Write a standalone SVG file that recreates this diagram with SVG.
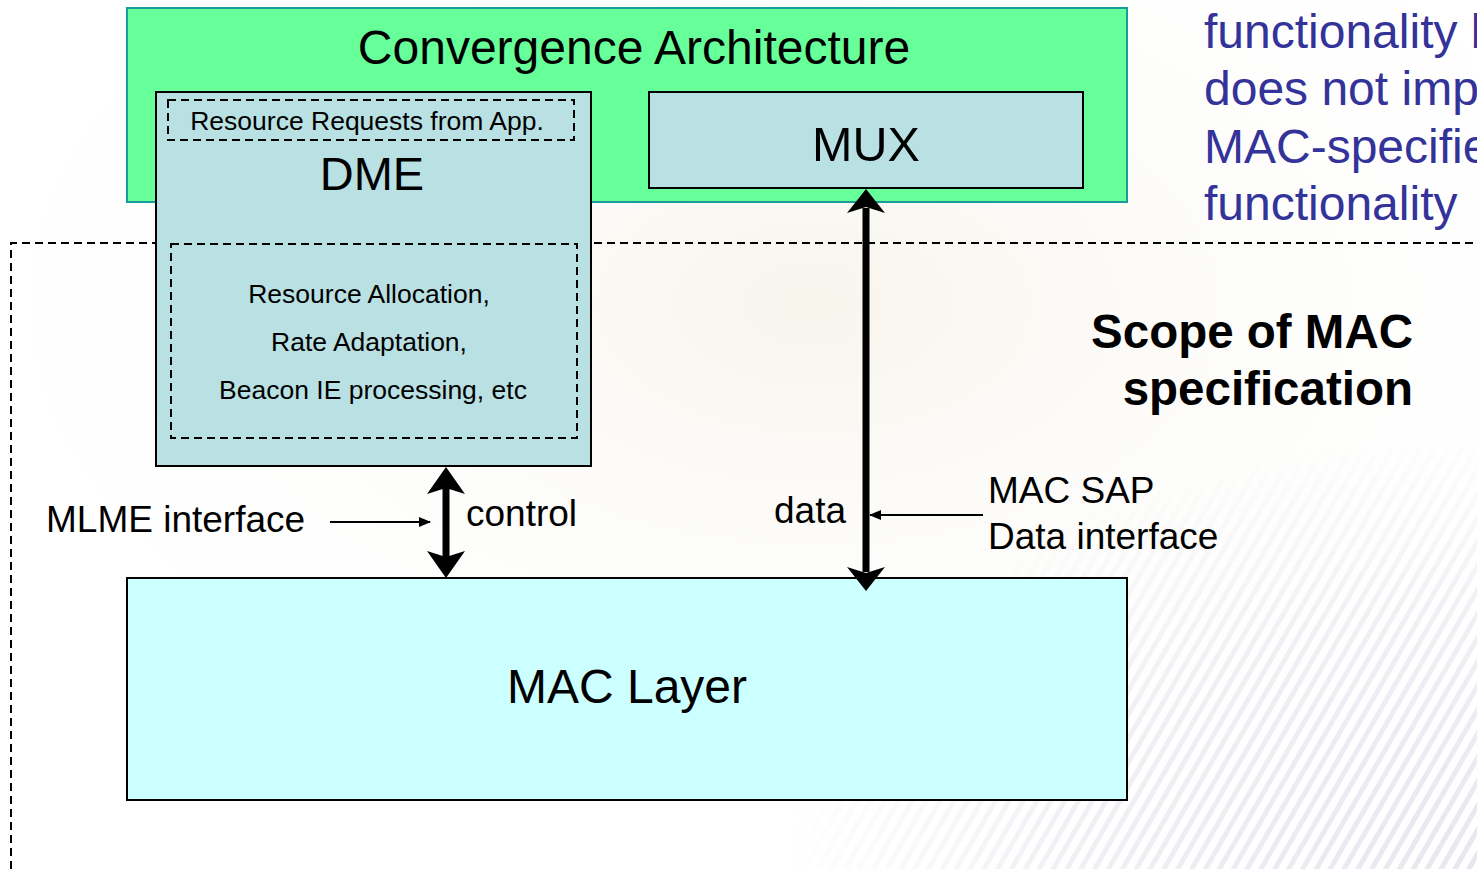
<svg xmlns="http://www.w3.org/2000/svg" width="1477" height="869" viewBox="0 0 1477 869">
  <defs>
    <style>
      .t { font-family: "Liberation Sans", Arial, sans-serif; fill: #000; }
      .note { font-family: "Liberation Sans", Arial, sans-serif; fill: #333399; font-size: 48px; }
      .dash { fill: none; stroke: #000; stroke-width: 2; stroke-dasharray: 8 5; }
      .box { stroke: #000; stroke-width: 2; }
      .thick { stroke: #000; stroke-width: 7; fill: none; }
      .thin { stroke: #000; stroke-width: 2; fill: none; }
    </style>
    <radialGradient id="bgGlow" cx="0.55" cy="0.35" r="0.6">
      <stop offset="0" stop-color="#f6f3ea" stop-opacity="0.9"/>
      <stop offset="1" stop-color="#ffffff" stop-opacity="0"/>
    </radialGradient>
    <pattern id="stripes" width="12" height="12" patternUnits="userSpaceOnUse" patternTransform="rotate(30)">
      <rect width="5" height="12" fill="#e9e6ee"/>
    </pattern>
    <radialGradient id="fadeG" cx="1" cy="1" r="1">
      <stop offset="0" stop-color="#fff" stop-opacity="1"/>
      <stop offset="0.6" stop-color="#fff" stop-opacity="0.6"/>
      <stop offset="1" stop-color="#fff" stop-opacity="0"/>
    </radialGradient>
    <mask id="fadeM">
      <rect x="780" y="430" width="697" height="439" fill="url(#fadeG)"/>
    </mask>
    <marker id="arrThin" viewBox="0 0 12 10" refX="11" refY="5" markerWidth="12" markerHeight="10" markerUnits="userSpaceOnUse" orient="auto">
      <path d="M0,0 L12,5 L0,10 Z" fill="#000"/>
    </marker>
  </defs>

  <rect x="0" y="0" width="1477" height="869" fill="#ffffff"/>
  <rect x="0" y="0" width="1477" height="869" fill="url(#bgGlow)"/>
  <rect x="780" y="430" width="697" height="439" fill="url(#stripes)" mask="url(#fadeM)"/>

  <g id="convergence">
    <rect x="127" y="8" width="1000" height="194" fill="#66FF99" stroke="#199c9c" stroke-width="2"/>
    <text class="t" x="634" y="64" font-size="48" text-anchor="middle">Convergence Architecture</text>
  </g>

  <g id="scope">
    <path class="dash" d="M11,869 L11,243 L1477,243"/>
    <text class="t" x="1413" y="348" font-size="47.5" font-weight="bold" text-anchor="end">Scope of MAC</text>
    <text class="t" x="1413" y="405" font-size="47.5" font-weight="bold" text-anchor="end">specification</text>
  </g>

  <g id="dme">
    <rect class="box" x="156" y="92" width="435" height="374" fill="#B9E0E3"/>
    <rect class="dash" x="168" y="100" width="406" height="40"/>
    <text class="t" x="367" y="130" font-size="26.5" text-anchor="middle">Resource Requests from App.</text>
    <text class="t" x="372" y="190" font-size="47" text-anchor="middle">DME</text>
    <rect class="dash" x="171" y="244" width="406" height="194"/>
    <text class="t" x="369" y="303" font-size="26.5" text-anchor="middle">Resource Allocation,</text>
    <text class="t" x="369" y="351" font-size="26.5" text-anchor="middle">Rate Adaptation,</text>
    <text class="t" x="373" y="399" font-size="26.5" text-anchor="middle">Beacon IE processing, etc</text>
  </g>

  <g id="mux">
    <rect class="box" x="649" y="92" width="434" height="96" fill="#B9E0E3"/>
    <text class="t" x="866" y="161" font-size="48.5" text-anchor="middle">MUX</text>
  </g>

  <g id="mac">
    <rect class="box" x="127" y="578" width="1000" height="222" fill="#CCFFFF"/>
    <text class="t" x="627" y="703" font-size="48" text-anchor="middle">MAC Layer</text>
  </g>

  <g id="note">
    <text class="note" x="1204" y="48">functionality b</text>
    <text class="note" x="1204" y="105">does not imp</text>
    <text class="note" x="1204" y="163">MAC-specifie</text>
    <text class="note" x="1204" y="220">functionality</text>
  </g>

  <g id="connectors">
    <line class="thick" x1="446" y1="488" x2="446" y2="558"/>
    <path d="M446,467 L465,494 L446,488 L427,494 Z" fill="#000"/>
    <path d="M446,578 L465,551 L446,557 L427,551 Z" fill="#000"/>
    <line class="thick" x1="866" y1="208" x2="866" y2="572"/>
    <path d="M866,189 L885,213 L866,207 L847,213 Z" fill="#000"/>
    <path d="M866,591 L885,567 L866,573 L847,567 Z" fill="#000"/>
    <line class="thin" x1="330" y1="522" x2="430" y2="522" marker-end="url(#arrThin)"/>
    <line class="thin" x1="983" y1="515" x2="870" y2="515" marker-end="url(#arrThin)"/>
  </g>

  <g id="labels">
    <text class="t" x="46" y="532" font-size="37">MLME interface</text>
    <text class="t" x="466" y="526" font-size="37">control</text>
    <text class="t" x="774" y="523" font-size="37">data</text>
    <text class="t" x="988" y="503" font-size="37">MAC SAP</text>
    <text class="t" x="988" y="549" font-size="37">Data interface</text>
  </g>
</svg>
